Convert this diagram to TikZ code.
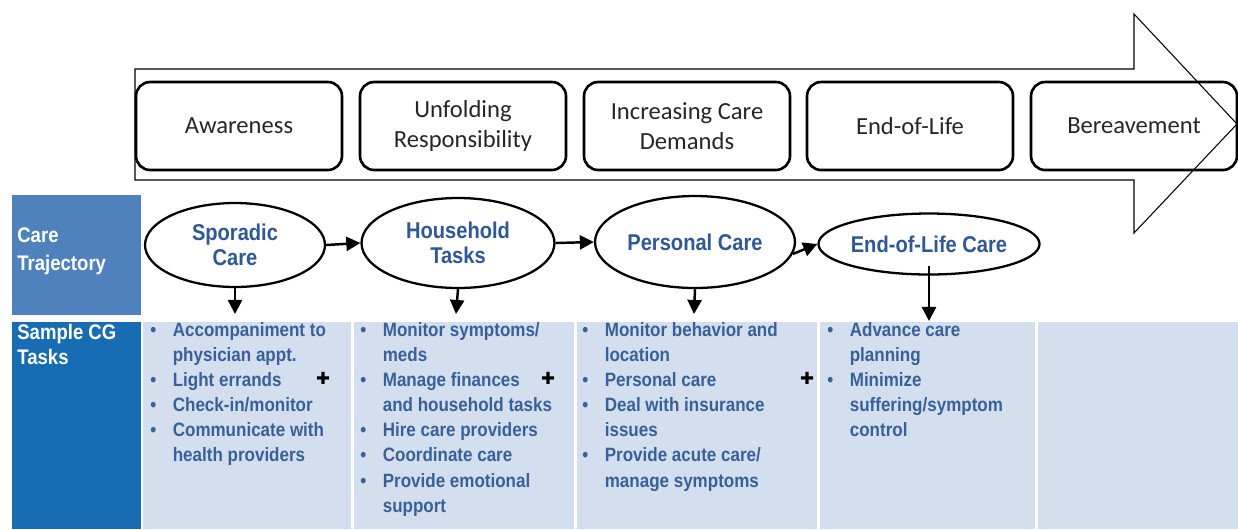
\documentclass[tikz,border=0pt]{standalone}
\usepackage{fontspec}
\setmainfont{Carlito}
\newfontfamily\narrowfont[FakeStretch=0.88]{Liberation Sans}
\newfontfamily\symbolfont{DejaVu Sans}
\usetikzlibrary{shapes.geometric,arrows.meta}

\definecolor{labelblue}{RGB}{46,88,150}
\definecolor{taskblue}{RGB}{58,96,152}
\definecolor{paleblue}{RGB}{211,222,238}
\definecolor{rowblue}{RGB}{79,129,189}
\definecolor{deepblue}{RGB}{24,108,180}

\tikzset{
  stage/.style={draw, line width=1.5pt, rounded corners=8pt, minimum width=4.12cm, minimum height=1.76cm,
    align=center, text=black!85, font=\fontsize{14}{17}\selectfont},
  trajectory/.style={ellipse, draw, line width=1.3pt, inner sep=0pt, align=center, text=labelblue,
    font=\narrowfont\bfseries\fontsize{13}{14.2}\selectfont},
  flow/.style={-{Triangle[length=8pt,width=8pt]}, line width=1.4pt},
  tasks/.style={anchor=north west, inner sep=0pt, align=left, text=taskblue,
    font=\narrowfont\bfseries\fontsize{11}{14.3}\selectfont},
  rowhead/.style={inner sep=0pt, align=left, text=white, font=\narrowfont\bfseries\fontsize{12}{16}\selectfont},
  plussign/.style={inner sep=0pt, font=\symbolfont\fontsize{9.5}{9.5}\selectfont}
}
\newcommand{\tb}{\makebox[0.45cm][l]{\textbullet}}
\newcommand{\ti}{\hspace*{0.45cm}}

\begin{document}
\begin{tikzpicture}[x=0.02cm, y=-0.02cm]
\def\stagey{126}
\def\tasktop{322}
\def\colA{150}
\def\colB{360}
\def\colC{582}
\def\colD{827}

\useasboundingbox (0,0) rectangle (1238,529);

% timeline arrow
\filldraw[fill=white, draw=black, line width=0.6pt] (135,69) -- (1134,69) -- (1134,14) -- (1237,124)
  -- (1134,233) -- (1134,180) -- (135,180) -- cycle;

\node[stage] (awareness) at (239,\stagey) {Awareness};
\node[stage] (unfolding) at (463,\stagey) {Unfolding\\Responsibility};
\node[stage] (increasing) at (687,\stagey) {Increasing Care\\Demands};
\node[stage] (endoflife) at (910,\stagey) {End-of-Life};
\node[stage] (bereavement) at (1134,\stagey) {Bereavement};

% row headers and task area
\fill[rowblue] (12,195) rectangle (141,315);
\fill[deepblue] (12,\tasktop) rectangle (141,529);
\foreach \a/\b in {143/351, 354/574, 577/817, 820/1035, 1038/1238}
  \fill[paleblue] (\a,\tasktop) rectangle (\b,529);

\node[rowhead, anchor=west] (trajhead) at (17,251) {Care\\Trajectory};
\node[rowhead, anchor=north west, font=\narrowfont\bfseries\fontsize{12}{14.3}\selectfont] (taskhead) at (17,324) {Sample CG\\Tasks};

% care trajectory
\node[trajectory, minimum width=3.6cm, minimum height=1.68cm] (sporadic) at (235,245) {Sporadic\\Care};
\node[trajectory, minimum width=3.86cm, minimum height=1.8cm] (household) at (458,243) {Household\\Tasks};
\node[trajectory, minimum width=4cm, minimum height=1.84cm] (personal) at (695,242) {\raisebox{-0.15cm}{Personal Care}};
\node[trajectory, minimum width=3.64cm, minimum height=1.22cm] (eolcare) at (929,244) {End-of-Life Care};

\draw[flow] (sporadic.east) -- (household.west);
\draw[flow] (household.east) -- (personal.west);
\draw[flow] (personal.-7) -- (eolcare.west);

\coordinate (downA) at (235,314);
\coordinate (downB) at (456,314);
\coordinate (downC) at (694,314);
\coordinate (downD) at (929,321);
\draw[flow] (sporadic.south) -- (downA);
\draw[flow] (household.south) -- (downB);
\draw[flow] (personal.south) -- (downC);
\draw[flow] ([yshift=0.2cm]eolcare.south) -- (downD);

% sample tasks
\node[tasks] (tasksA) at (\colA,\tasktop) {\tb Accompaniment to\\ \ti physician appt.\\ \tb Light errands\\
  \tb Check-in/monitor\\ \tb Communicate with\\ \ti health providers};
\node[tasks] (tasksB) at (\colB,\tasktop) {\tb Monitor symptoms/\\ \ti meds\\ \tb Manage finances\\
  \ti and household tasks\\ \tb Hire care providers\\ \tb Coordinate care\\ \tb Provide emotional\\ \ti support};
\node[tasks] (tasksC) at (\colC,\tasktop) {\tb Monitor behavior and\\ \ti location\\ \tb Personal care\\
  \tb Deal with insurance\\ \ti issues\\ \tb Provide acute care/\\ \ti manage symptoms};
\node[tasks] (tasksD) at (\colD,\tasktop) {\tb Advance care\\ \ti planning\\ \tb Minimize\\
  \ti suffering/symptom\\ \ti control};

\node[plussign] (plusA) at (323,378) {✚};
\node[plussign] (plusB) at (548,378) {✚};
\node[plussign] (plusC) at (807,378) {✚};

\end{tikzpicture}
\end{document}
